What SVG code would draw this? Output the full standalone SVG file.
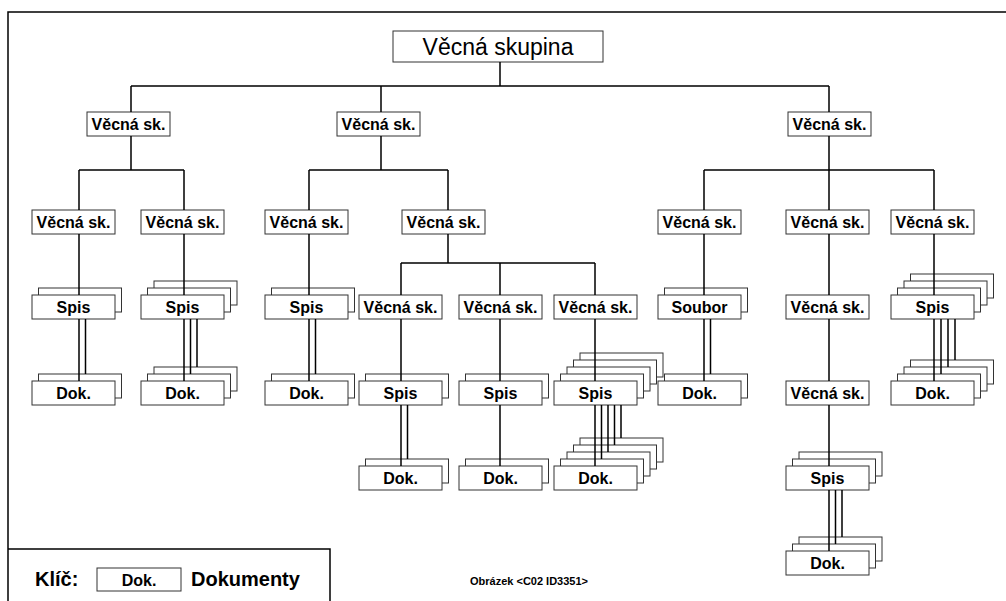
<svg xmlns="http://www.w3.org/2000/svg" width="1006" height="601" viewBox="0 0 1006 601">
  <style>
    .frame { fill: none; stroke: #000; stroke-width: 1.5; }
    .box { fill: #fff; stroke: #333; stroke-width: 1; }
    .wire { fill: none; stroke: #000; stroke-width: 1.5; }
    .lbl { font-family: "Liberation Sans", Arial, sans-serif; font-weight: bold; font-size: 16px; text-anchor: middle; fill: #000; }
    .title { font-family: "Liberation Sans", Arial, sans-serif; font-size: 23px; text-anchor: middle; fill: #000; }
    .key { font-family: "Liberation Sans", Arial, sans-serif; font-weight: bold; font-size: 20px; fill: #000; }
    .caption { font-family: "Liberation Sans", Arial, sans-serif; font-weight: bold; font-size: 11px; fill: #000; }
  </style>

  <rect width="1006" height="601" fill="#fff"/>
  <rect class="frame" x="8" y="12" width="1010" height="600"/>

  <!-- root -->
  <g id="root">
    <rect class="box" x="393" y="31" width="210" height="31"/>
    <text class="title" x="498" y="55">Věcná skupina</text>
  </g>

  <!-- level 1 -->
  <g id="vs-left">
    <rect class="box" x="87" y="112" width="83" height="24"/>
    <text class="lbl" x="128.5" y="130">Věcná sk.</text>
  </g>
  <g id="vs-mid">
    <rect class="box" x="337" y="112" width="83" height="24"/>
    <text class="lbl" x="378.5" y="130">Věcná sk.</text>
  </g>
  <g id="vs-right">
    <rect class="box" x="788" y="112" width="83" height="24"/>
    <text class="lbl" x="829.5" y="130">Věcná sk.</text>
  </g>

  <!-- level 2 -->
  <g id="vs-a">
    <rect class="box" x="32" y="210" width="83" height="24"/>
    <text class="lbl" x="73.5" y="228">Věcná sk.</text>
  </g>
  <g id="vs-b">
    <rect class="box" x="141" y="210" width="83" height="24"/>
    <text class="lbl" x="182.5" y="228">Věcná sk.</text>
  </g>
  <g id="vs-c">
    <rect class="box" x="265" y="210" width="83" height="24"/>
    <text class="lbl" x="306.5" y="228">Věcná sk.</text>
  </g>
  <g id="vs-d">
    <rect class="box" x="402" y="210" width="83" height="24"/>
    <text class="lbl" x="443.5" y="228">Věcná sk.</text>
  </g>
  <g id="vs-g">
    <rect class="box" x="658" y="210" width="83" height="24"/>
    <text class="lbl" x="699.5" y="228">Věcná sk.</text>
  </g>
  <g id="vs-h">
    <rect class="box" x="786" y="210" width="83" height="24"/>
    <text class="lbl" x="827.5" y="228">Věcná sk.</text>
  </g>
  <g id="vs-i">
    <rect class="box" x="891" y="210" width="83" height="24"/>
    <text class="lbl" x="932.5" y="228">Věcná sk.</text>
  </g>

  <!-- level 3 -->
  <g id="spis-a">
    <rect class="box" x="38.5" y="288" width="83" height="24"/>
    <rect class="box" x="32" y="295" width="83" height="24"/>
    <text class="lbl" x="73.5" y="313">Spis</text>
  </g>
  <g id="spis-b">
    <rect class="box" x="154" y="281" width="83" height="24"/>
    <rect class="box" x="147.5" y="288" width="83" height="24"/>
    <rect class="box" x="141" y="295" width="83" height="24"/>
    <text class="lbl" x="182.5" y="313">Spis</text>
  </g>
  <g id="spis-c">
    <rect class="box" x="271.5" y="288" width="83" height="24"/>
    <rect class="box" x="265" y="295" width="83" height="24"/>
    <text class="lbl" x="306.5" y="313">Spis</text>
  </g>
  <g id="vs-d1">
    <rect class="box" x="359" y="295" width="83" height="24"/>
    <text class="lbl" x="400.5" y="313">Věcná sk.</text>
  </g>
  <g id="vs-d2">
    <rect class="box" x="459" y="295" width="83" height="24"/>
    <text class="lbl" x="500.5" y="313">Věcná sk.</text>
  </g>
  <g id="vs-d3">
    <rect class="box" x="554" y="295" width="83" height="24"/>
    <text class="lbl" x="595.5" y="313">Věcná sk.</text>
  </g>
  <g id="soubor">
    <rect class="box" x="664.5" y="288" width="83" height="24"/>
    <rect class="box" x="658" y="295" width="83" height="24"/>
    <text class="lbl" x="699.5" y="313">Soubor</text>
  </g>
  <g id="vs-h2">
    <rect class="box" x="786" y="295" width="83" height="24"/>
    <text class="lbl" x="827.5" y="313">Věcná sk.</text>
  </g>
  <g id="spis-i">
    <rect class="box" x="910.5" y="274" width="83" height="24"/>
    <rect class="box" x="904" y="281" width="83" height="24"/>
    <rect class="box" x="897.5" y="288" width="83" height="24"/>
    <rect class="box" x="891" y="295" width="83" height="24"/>
    <text class="lbl" x="932.5" y="313">Spis</text>
  </g>

  <!-- level 4 -->
  <g id="dok-a">
    <rect class="box" x="38.5" y="374" width="83" height="24"/>
    <rect class="box" x="32" y="381" width="83" height="24"/>
    <text class="lbl" x="73.5" y="399">Dok.</text>
  </g>
  <g id="dok-b">
    <rect class="box" x="154" y="367" width="83" height="24"/>
    <rect class="box" x="147.5" y="374" width="83" height="24"/>
    <rect class="box" x="141" y="381" width="83" height="24"/>
    <text class="lbl" x="182.5" y="399">Dok.</text>
  </g>
  <g id="dok-c">
    <rect class="box" x="271.5" y="374" width="83" height="24"/>
    <rect class="box" x="265" y="381" width="83" height="24"/>
    <text class="lbl" x="306.5" y="399">Dok.</text>
  </g>
  <g id="spis-d1">
    <rect class="box" x="365.5" y="374" width="83" height="24"/>
    <rect class="box" x="359" y="381" width="83" height="24"/>
    <text class="lbl" x="400.5" y="399">Spis</text>
  </g>
  <g id="spis-d2">
    <rect class="box" x="465.5" y="374" width="83" height="24"/>
    <rect class="box" x="459" y="381" width="83" height="24"/>
    <text class="lbl" x="500.5" y="399">Spis</text>
  </g>
  <g id="spis-d3">
    <rect class="box" x="580" y="353" width="83" height="24"/>
    <rect class="box" x="573.5" y="360" width="83" height="24"/>
    <rect class="box" x="567" y="367" width="83" height="24"/>
    <rect class="box" x="560.5" y="374" width="83" height="24"/>
    <rect class="box" x="554" y="381" width="83" height="24"/>
    <text class="lbl" x="595.5" y="399">Spis</text>
  </g>
  <g id="dok-g">
    <rect class="box" x="664.5" y="374" width="83" height="24"/>
    <rect class="box" x="658" y="381" width="83" height="24"/>
    <text class="lbl" x="699.5" y="399">Dok.</text>
  </g>
  <g id="vs-h3">
    <rect class="box" x="786" y="381" width="83" height="24"/>
    <text class="lbl" x="827.5" y="399">Věcná sk.</text>
  </g>
  <g id="dok-i">
    <rect class="box" x="910.5" y="360" width="83" height="24"/>
    <rect class="box" x="904" y="367" width="83" height="24"/>
    <rect class="box" x="897.5" y="374" width="83" height="24"/>
    <rect class="box" x="891" y="381" width="83" height="24"/>
    <text class="lbl" x="932.5" y="399">Dok.</text>
  </g>

  <!-- level 5 -->
  <g id="dok-d1">
    <rect class="box" x="365.5" y="459" width="83" height="24"/>
    <rect class="box" x="359" y="466" width="83" height="24"/>
    <text class="lbl" x="400.5" y="484">Dok.</text>
  </g>
  <g id="dok-d2">
    <rect class="box" x="465.5" y="459" width="83" height="24"/>
    <rect class="box" x="459" y="466" width="83" height="24"/>
    <text class="lbl" x="500.5" y="484">Dok.</text>
  </g>
  <g id="dok-d3">
    <rect class="box" x="580" y="438" width="83" height="24"/>
    <rect class="box" x="573.5" y="445" width="83" height="24"/>
    <rect class="box" x="567" y="452" width="83" height="24"/>
    <rect class="box" x="560.5" y="459" width="83" height="24"/>
    <rect class="box" x="554" y="466" width="83" height="24"/>
    <text class="lbl" x="595.5" y="484">Dok.</text>
  </g>
  <g id="spis-h">
    <rect class="box" x="799" y="452" width="83" height="24"/>
    <rect class="box" x="792.5" y="459" width="83" height="24"/>
    <rect class="box" x="786" y="466" width="83" height="24"/>
    <text class="lbl" x="827.5" y="484">Spis</text>
  </g>

  <!-- level 6 -->
  <g id="dok-h">
    <rect class="box" x="799" y="537" width="83" height="24"/>
    <rect class="box" x="792.5" y="544" width="83" height="24"/>
    <rect class="box" x="786" y="551" width="83" height="24"/>
    <text class="lbl" x="827.5" y="569">Dok.</text>
  </g>

  <!-- connectors -->
  <g id="connectors" class="wire">
    <path d="M500 62V86M131 86H829M131 86V112M381 86V112M829 86V112"/>
    <!-- left branch -->
    <path d="M131 136V170M79 170H184M79 170V210M184 170V210"/>
    <path d="M79 234V295M184 234V295"/>
    <path d="M79 319V381M85.5 319V374"/>
    <path d="M184 319V381M190.5 319V374M197 319V367"/>
    <!-- middle branch -->
    <path d="M381 136V170M309 170H448M309 170V210M448 170V210"/>
    <path d="M309 234V295M309 319V381M315.5 319V374"/>
    <path d="M448 234V263M401 263H595M401 263V295M500 263V295M595 263V295"/>
    <path d="M401 319V381M401 405V466M407.5 405V459"/>
    <path d="M500 319V381M500 405V466"/>
    <path d="M595 319V381M595 405V466M601.5 405V459M608 405V452M614.5 405V445M621 405V438"/>
    <!-- right branch -->
    <path d="M829 136V170M704 170H934M704 170V210M829 170V210M934 170V210"/>
    <path d="M704 234V295M704 319V381M710.5 319V374"/>
    <path d="M829 234V295M829 319V381M829 405V466"/>
    <path d="M829 490V551M835.5 490V544M842 490V537"/>
    <path d="M934 234V295M934 319V381M941 319V374M948 319V367M955 319V360"/>
  </g>

  <!-- key -->
  <g id="legend">
    <path d="M8 549H330V610" fill="#fff" stroke="#000" stroke-width="1.5"/>
    <text class="key" x="35" y="586">Klíč:</text>
    <rect class="box" x="97" y="568" width="84" height="23"/>
    <text class="lbl" x="139" y="586">Dok.</text>
    <text class="key" x="191" y="586">Dokumenty</text>
  </g>
  <text class="caption" x="470" y="585">Obrázek &lt;C02 ID3351&gt;</text>
</svg>
